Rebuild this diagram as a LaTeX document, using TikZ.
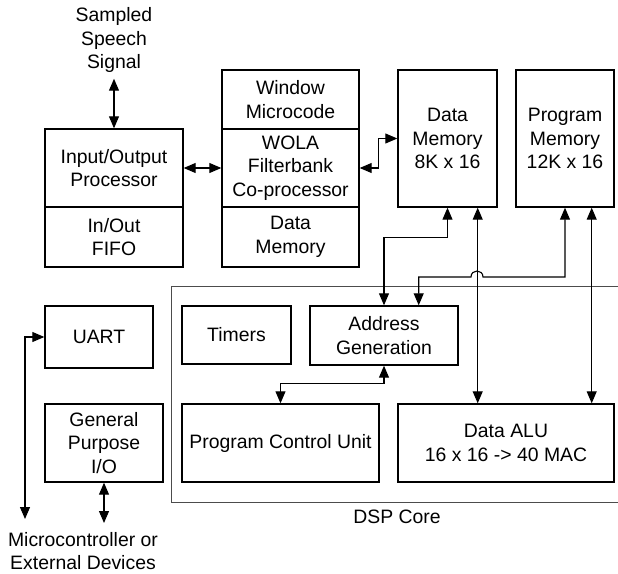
\documentclass[tikz,border=0pt]{standalone}
\usepackage{fontspec}
\setmainfont{Liberation Sans}
\usepackage{tikz}
\usetikzlibrary{arrows.meta,positioning,calc}

\tikzset{
    blk/.style={draw, line width=1.4pt, inner sep=0pt, align=center},
    link/.style={line width=1.1pt, {Triangle[length=12pt,width=10pt]}-{Triangle[length=12pt,width=10pt]}},
    lbl/.style={align=center, inner sep=2pt}
}

\begin{document}
\begin{tikzpicture}[x=1pt, y=-1pt, font=\fontsize{19.4}{23.5}\selectfont]
    \useasboundingbox (0,0) rectangle (618,573);

    % DSP core frame
    \draw[line width=0.8pt, black!70] (640,286) -- (171,286) -- (171,502) -- (640,502);
    \node[lbl] (core) at (397,517) {DSP Core};

    % Input/Output processor
    \node[lbl, inner sep=6pt] (sig) at (114,40) {Sampled\\Speech\\Signal};
    \node[blk, minimum width=138pt, minimum height=78pt] (iop) at (114,168) {Input/Output\\Processor};
    \node[blk, minimum width=138pt, minimum height=60pt] (fifo) at (114,237) {In/Out\\FIFO};

    % WOLA filterbank
    \node[blk, minimum width=137pt, minimum height=59pt] (win) at (290.5,99.5) {Window\\Microcode};
    \node[blk, minimum width=137pt, minimum height=78pt] (wola) at (290.5,168) {WOLA\\Filterbank\\Co-processor};
    \node[blk, minimum width=137pt, minimum height=60pt] (wdm) at (290.5,237) {Data\\Memory};

    % Memories
    \node[blk, minimum width=99pt, minimum height=137pt] (dmem) at (447.5,138.5) {Data\\Memory\\8K x 16};
    \node[blk, minimum width=98pt, minimum height=137pt] (pmem) at (565,138.5) {Program\\Memory\\12K x 16};

    % Peripherals
    \node[blk, minimum width=108pt, minimum height=62pt] (uart) at (99,337) {UART};
    \node[blk, minimum width=118pt, minimum height=78pt] (gpio) at (104,443) {General\\Purpose\\I/O};
    \node[lbl] (ext) at (83,551) {Microcontroller or\\External Devices};

    % Core blocks
    \node[blk, minimum width=109pt, minimum height=58pt] (timers) at (236.5,335) {Timers};
    \node[blk, minimum width=148pt, minimum height=59pt] (agen) at (384,335.5) {Address\\Generation};
    \node[blk, minimum width=197pt, minimum height=78pt] (pcu) at (280.5,443) {Program Control Unit};
    \node[blk, minimum width=216pt, minimum height=78pt] (alu) at (506,443) {Data ALU\\16 x 16 -> 40 MAC};

    % Connections
    \draw[link] (sig) -- (iop);
    \draw[link] (iop) -- (wola);
    \draw[link] (wola.east) -- ++(19,0) |- (dmem.west);
    \draw[link] (dmem.south) -- ++(0,30) -| (agen.north);
    \draw[link] ([xshift=-20pt]dmem.south east) -- ([xshift=-20pt]dmem.south east |- alu.north);
    \coordinate (hop) at (477,277);
    \draw[link] (pmem.south) |- ([xshift=6pt]hop) .. controls +(0,-8) and +(0,-8) .. ([xshift=-6pt]hop) -| ([xshift=-40pt]agen.north east);
    \draw[link] ([xshift=-23pt]pmem.south east) -- ([xshift=-23pt]pmem.south east |- alu.north);
    \draw[link] (agen.south) -- ++(0,18) -| (pcu.north);

    % External lines
    \coordinate (uartend) at (25,519);
    \coordinate (gpioend) at (104,523);
    \draw[link] (uart.west) -| (uartend);
    \draw[link] (gpio.south) -- (gpioend);
\end{tikzpicture}
\end{document}
